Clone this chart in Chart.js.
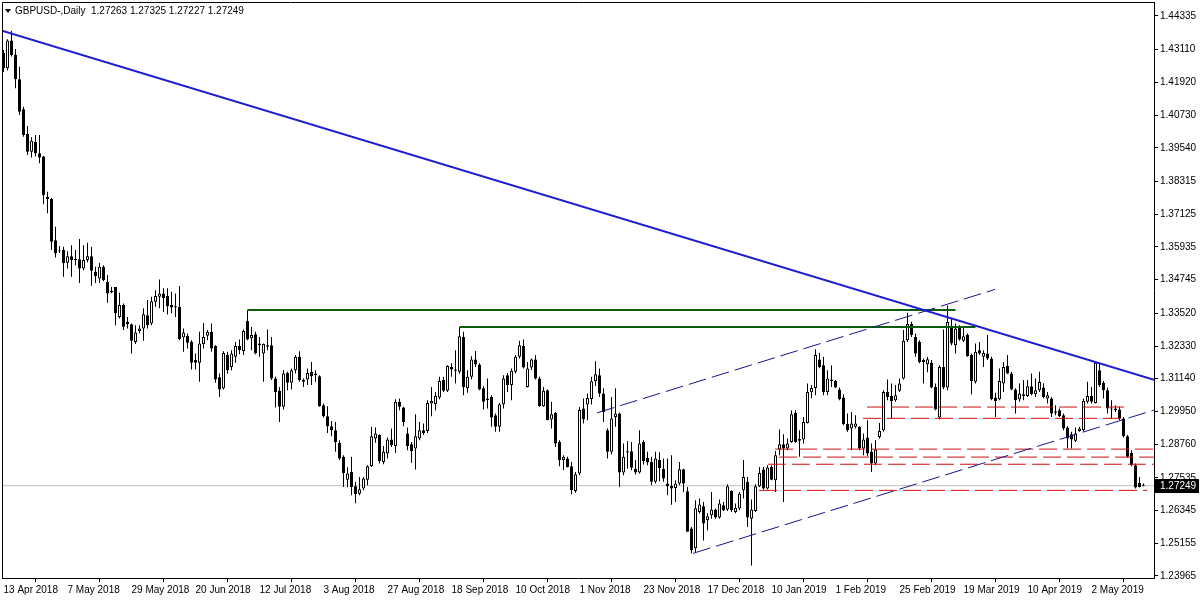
<!DOCTYPE html>
<html>
<head>
<meta charset="utf-8">
<script src="https://cdn.jsdelivr.net/npm/chart.js@4/dist/chart.umd.min.js"></script>
<style>
  html, body { margin: 0; padding: 0; background: #fff; }
</style>
</head>
<body>
<canvas id="chart" width="1200" height="600"></canvas>
<script>
// GBPUSD daily candles, 13 Apr 2018 .. 20 May 2019
const symbolTitle = 'GBPUSD-,Daily'
const lastQuote = [1.27263, 1.27325, 1.27227, 1.27249]

const dateLabels = ['13 Apr 2018', '7 May 2018', '29 May 2018', '20 Jun 2018', '12 Jul 2018', '3 Aug 2018',
  '27 Aug 2018', '18 Sep 2018', '10 Oct 2018', '1 Nov 2018', '23 Nov 2018', '17 Dec 2018', '10 Jan 2019',
  '1 Feb 2019', '25 Feb 2019', '19 Mar 2019', '10 Apr 2019', '2 May 2019']
const dateTickBars = [0, 16, 32, 48, 64, 80, 96, 112, 128, 144, 160, 176, 192, 208, 224, 240, 256, 272]

const priceTicks = [1.44335, 1.43110, 1.41920, 1.40730, 1.39540, 1.38315, 1.37125, 1.35935, 1.34745,
  1.33520, 1.32330, 1.31140, 1.29950, 1.28760, 1.27535, 1.26345, 1.25155, 1.23965]

const opens = [
  1.4299, 1.4243, 1.4344, 1.4292, 1.4203, 1.4094, 1.4004, 1.3940, 1.3976, 1.3934,
  1.3922, 1.3776, 1.3768, 1.3618, 1.3578, 1.3582, 1.3536, 1.3560, 1.3549, 1.3549,
  1.3515, 1.3546, 1.3560, 1.3503, 1.3479, 1.3521, 1.3467, 1.3434, 1.3448, 1.3339,
  1.3382, 1.3321, 1.3312, 1.3248, 1.3288, 1.3297, 1.3345, 1.3315, 1.3394, 1.3412,
  1.3424, 1.3415, 1.3382, 1.3378, 1.3376, 1.3264, 1.3270, 1.3248, 1.3182, 1.3172,
  1.3240, 1.3270, 1.3285, 1.3233, 1.3119, 1.3079, 1.3200, 1.3157, 1.3194, 1.3233,
  1.3215, 1.3324, 1.3261, 1.3276, 1.3242, 1.3206, 1.3236, 1.3236, 1.3115, 1.3070,
  1.3012, 1.3135, 1.3099, 1.3145, 1.3194, 1.3109, 1.3111, 1.3139, 1.3133, 1.3123,
  1.3018, 1.2978, 1.2941, 1.2927, 1.2881, 1.2830, 1.2747, 1.2775, 1.2723, 1.2696,
  1.2715, 1.2747, 1.2796, 1.2897, 1.2909, 1.2811, 1.2842, 1.2893, 1.2869, 1.3030,
  1.3009, 1.2915, 1.2876, 1.2860, 1.2897, 1.2927, 1.2924, 1.3024, 1.3021, 1.3046,
  1.3109, 1.3070, 1.3157, 1.3148, 1.3139, 1.3266, 1.3079, 1.3121, 1.3184, 1.3166,
  1.3079, 1.3042, 1.3048, 1.2981, 1.2939, 1.3021, 1.3127, 1.3091, 1.3139, 1.3194,
  1.3233, 1.3084, 1.3155, 1.3184, 1.3115, 1.3014, 1.3072, 1.2966, 1.2990, 1.2884,
  1.2818, 1.2824, 1.2796, 1.2706, 1.2769, 1.3006, 1.3020, 1.3040, 1.3105, 1.3127,
  1.3060, 1.2927, 1.2848, 1.2975, 1.2988, 1.2773, 1.2850, 1.2850, 1.2787, 1.2773,
  1.2884, 1.2826, 1.2811, 1.2739, 1.2818, 1.2787, 1.2733, 1.2724, 1.2717, 1.2733,
  1.2785, 1.2705, 1.2569, 1.2497, 1.2629, 1.2650, 1.2599, 1.2617, 1.2638, 1.2609,
  1.2654, 1.2638, 1.2706, 1.2629, 1.2642, 1.2708, 1.2739, 1.2605, 1.2633, 1.2723,
  1.2784, 1.2715, 1.2793, 1.2745, 1.2857, 1.2876, 1.2860, 1.2884, 1.2990, 1.2895,
  1.2893, 1.2953, 1.3065, 1.3080, 1.3184, 1.3163, 1.3066, 1.3111, 1.3106, 1.3075,
  1.3046, 1.2949, 1.2933, 1.2939, 1.2939, 1.2860, 1.2900, 1.2848, 1.2806, 1.2902,
  1.2927, 1.3066, 1.3051, 1.3036, 1.3070, 1.3115, 1.3254, 1.3313, 1.3266, 1.3248,
  1.3182, 1.3167, 1.3172, 1.3084, 1.2973, 1.3157, 1.3082, 1.3303, 1.3236, 1.3300,
  1.3252, 1.3273, 1.3200, 1.3103, 1.3218, 1.3194, 1.3206, 1.3188, 1.3046, 1.3039,
  1.3097, 1.3160, 1.3133, 1.3075, 1.3039, 1.3058, 1.3051, 1.3087, 1.3058, 1.3072,
  1.3082, 1.3042, 1.3042, 1.2996, 1.2999, 1.2981, 1.2937, 1.2912, 1.2888, 1.2924,
  1.2927, 1.3030, 1.3051, 1.3026, 1.3145, 1.3099, 1.3072, 1.3006, 1.3006, 1.3002,
  1.2969, 1.2905, 1.2844, 1.2799, 1.2735, 1.27263]

const highs = [
  1.4310, 1.4349, 1.4380, 1.4313, 1.4249, 1.4103, 1.4033, 1.3992, 1.4001, 1.4001,
  1.3924, 1.3794, 1.3771, 1.3667, 1.3597, 1.3594, 1.3578, 1.3600, 1.3582, 1.3622,
  1.3600, 1.3609, 1.3594, 1.3521, 1.3536, 1.3527, 1.3491, 1.3448, 1.3448, 1.3427,
  1.3388, 1.3339, 1.3315, 1.3309, 1.3309, 1.3370, 1.3400, 1.3412, 1.3436, 1.3475,
  1.3443, 1.3443, 1.3430, 1.3424, 1.3451, 1.3297, 1.3279, 1.3254, 1.3206, 1.3285,
  1.3317, 1.3291, 1.3315, 1.3236, 1.3133, 1.3214, 1.3212, 1.3218, 1.3248, 1.3257,
  1.3293, 1.3364, 1.3303, 1.3285, 1.3266, 1.3242, 1.3293, 1.3266, 1.3121, 1.3084,
  1.3145, 1.3139, 1.3151, 1.3200, 1.3214, 1.3115, 1.3151, 1.3175, 1.3145, 1.3127,
  1.3024, 1.3014, 1.2960, 1.2957, 1.2890, 1.2836, 1.2792, 1.2830, 1.2739, 1.2757,
  1.2757, 1.2799, 1.2939, 1.2937, 1.2912, 1.2869, 1.2900, 1.2933, 1.3039, 1.3042,
  1.3012, 1.2937, 1.2884, 1.2985, 1.2957, 1.2951, 1.3036, 1.3084, 1.3066, 1.3121,
  1.3121, 1.3163, 1.3170, 1.3218, 1.3302, 1.3285, 1.3145, 1.3196, 1.3215, 1.3170,
  1.3087, 1.3115, 1.3054, 1.2988, 1.3026, 1.3127, 1.3135, 1.3151, 1.3200, 1.3252,
  1.3257, 1.3175, 1.3188, 1.3200, 1.3121, 1.3084, 1.3075, 1.3030, 1.2993, 1.2890,
  1.2836, 1.2830, 1.2811, 1.2775, 1.3011, 1.3042, 1.3060, 1.3121, 1.3178, 1.3151,
  1.3079, 1.2933, 1.3048, 1.3079, 1.2991, 1.2878, 1.2887, 1.2884, 1.2818, 1.2927,
  1.2890, 1.2848, 1.2830, 1.2848, 1.2847, 1.2824, 1.2824, 1.2836, 1.2745, 1.2811,
  1.2787, 1.2720, 1.2575, 1.2672, 1.2678, 1.2666, 1.2626, 1.2702, 1.2642, 1.2675,
  1.2666, 1.2730, 1.2708, 1.2660, 1.2702, 1.2818, 1.2757, 1.2675, 1.2730, 1.2793,
  1.2793, 1.2799, 1.2799, 1.2851, 1.2929, 1.2912, 1.2897, 1.2999, 1.2999, 1.2927,
  1.2975, 1.3097, 1.3091, 1.3221, 1.3208, 1.3194, 1.3145, 1.3163, 1.3109, 1.3082,
  1.3058, 1.2988, 1.2993, 1.2981, 1.2941, 1.2915, 1.2963, 1.2878, 1.2890, 1.2953,
  1.3072, 1.3111, 1.3097, 1.3091, 1.3115, 1.3291, 1.3354, 1.3321, 1.3279, 1.3254,
  1.3188, 1.3193, 1.3182, 1.3097, 1.3163, 1.3293, 1.3380, 1.3333, 1.3315, 1.3309,
  1.3303, 1.3279, 1.3206, 1.3242, 1.3248, 1.3218, 1.3273, 1.3194, 1.3063, 1.3151,
  1.3175, 1.3200, 1.3139, 1.3079, 1.3097, 1.3109, 1.3109, 1.3133, 1.3115, 1.3139,
  1.3098, 1.3066, 1.3048, 1.3018, 1.3006, 1.2988, 1.2941, 1.2921, 1.2937, 1.2939,
  1.3042, 1.3103, 1.3084, 1.3175, 1.3172, 1.3106, 1.3082, 1.3036, 1.3018, 1.3012,
  1.2975, 1.2909, 1.2854, 1.2806, 1.2757, 1.27325]

const lows = [
  1.4230, 1.4235, 1.4286, 1.4171, 1.4073, 1.3994, 1.3928, 1.3919, 1.3922, 1.3898,
  1.3749, 1.3716, 1.3582, 1.3555, 1.3571, 1.3485, 1.3515, 1.3485, 1.3527, 1.3462,
  1.3509, 1.3538, 1.3452, 1.3462, 1.3462, 1.3469, 1.3390, 1.3425, 1.3309, 1.3333,
  1.3291, 1.3297, 1.3206, 1.3240, 1.3279, 1.3252, 1.3297, 1.3309, 1.3376, 1.3370,
  1.3357, 1.3348, 1.3352, 1.3339, 1.3254, 1.3212, 1.3224, 1.3148, 1.3148, 1.3103,
  1.3224, 1.3254, 1.3212, 1.3099, 1.3048, 1.3075, 1.3133, 1.3145, 1.3172, 1.3203,
  1.3200, 1.3254, 1.3218, 1.3203, 1.3194, 1.3103, 1.3218, 1.3109, 1.3009, 1.2957,
  1.3002, 1.3072, 1.3075, 1.3133, 1.3103, 1.3084, 1.3091, 1.3091, 1.3103, 1.3012,
  1.2973, 1.2917, 1.2905, 1.2848, 1.2818, 1.2720, 1.2719, 1.2690, 1.2661, 1.2690,
  1.2708, 1.2727, 1.2793, 1.2881, 1.2806, 1.2803, 1.2824, 1.2866, 1.2844, 1.2999,
  1.2941, 1.2854, 1.2808, 1.2784, 1.2890, 1.2909, 1.2917, 1.2978, 1.2999, 1.3039,
  1.3066, 1.3066, 1.3121, 1.3097, 1.3133, 1.3054, 1.3063, 1.3111, 1.3157, 1.3072,
  1.3002, 1.3006, 1.2939, 1.2921, 1.2921, 1.3006, 1.3066, 1.3036, 1.3133, 1.3188,
  1.3151, 1.3082, 1.3145, 1.3111, 1.3012, 1.3012, 1.2963, 1.2933, 1.2866, 1.2796,
  1.2781, 1.2791, 1.2694, 1.2699, 1.2763, 1.2951, 1.2963, 1.3020, 1.3088, 1.3048,
  1.2957, 1.2824, 1.2838, 1.2939, 1.2720, 1.2763, 1.2787, 1.2781, 1.2766, 1.2769,
  1.2802, 1.2799, 1.2727, 1.2733, 1.2741, 1.2739, 1.2690, 1.2656, 1.2666, 1.2727,
  1.2702, 1.2557, 1.2478, 1.2483, 1.2624, 1.2526, 1.2563, 1.2605, 1.2605, 1.2605,
  1.2633, 1.2633, 1.2629, 1.2625, 1.2636, 1.2678, 1.2575, 1.2435, 1.2629, 1.2720,
  1.2711, 1.2711, 1.2745, 1.2702, 1.2836, 1.2666, 1.2854, 1.2881, 1.2881, 1.2830,
  1.2878, 1.2951, 1.3043, 1.3054, 1.3152, 1.3054, 1.3054, 1.3084, 1.3079, 1.3036,
  1.2945, 1.2921, 1.2854, 1.2933, 1.2854, 1.2836, 1.2832, 1.2775, 1.2799, 1.2897,
  1.2921, 1.3036, 1.2969, 1.3030, 1.3066, 1.3111, 1.3248, 1.3266, 1.3194, 1.3170,
  1.3097, 1.3138, 1.3079, 1.2999, 1.2966, 1.3076, 1.3072, 1.3236, 1.3206, 1.3252,
  1.3248, 1.3194, 1.3058, 1.3097, 1.3200, 1.3157, 1.3182, 1.3036, 1.2975, 1.3036,
  1.3066, 1.3131, 1.3072, 1.2988, 1.3030, 1.3036, 1.3048, 1.3054, 1.3048, 1.3066,
  1.3043, 1.3024, 1.2975, 1.2981, 1.2975, 1.2927, 1.2860, 1.2860, 1.2884, 1.2921,
  1.2921, 1.3024, 1.3024, 1.3024, 1.3084, 1.3042, 1.2988, 1.2969, 1.2993, 1.2963,
  1.2900, 1.2827, 1.2796, 1.2715, 1.2718, 1.27227]

const closes = [
  1.4244, 1.4344, 1.4292, 1.4203, 1.4085, 1.4001, 1.3940, 1.3980, 1.3934, 1.3919,
  1.3782, 1.3768, 1.3612, 1.3570, 1.3577, 1.3534, 1.3560, 1.3546, 1.3546, 1.3515,
  1.3546, 1.3560, 1.3507, 1.3487, 1.3521, 1.3473, 1.3424, 1.3428, 1.3352, 1.3382,
  1.3303, 1.3312, 1.3252, 1.3282, 1.3297, 1.3349, 1.3309, 1.3396, 1.3415, 1.3424,
  1.3408, 1.3379, 1.3373, 1.3373, 1.3258, 1.3282, 1.3245, 1.3172, 1.3172, 1.3242,
  1.3266, 1.3285, 1.3224, 1.3111, 1.3075, 1.3208, 1.3145, 1.3206, 1.3233, 1.3218,
  1.3288, 1.3257, 1.3273, 1.3206, 1.3236, 1.3240, 1.3230, 1.3115, 1.3066, 1.3012,
  1.3133, 1.3099, 1.3145, 1.3194, 1.3109, 1.3103, 1.3135, 1.3123, 1.3127, 1.3014,
  1.2978, 1.2941, 1.2927, 1.2884, 1.2824, 1.2771, 1.2769, 1.2720, 1.2694, 1.2712,
  1.2751, 1.2796, 1.2905, 1.2915, 1.2815, 1.2848, 1.2893, 1.2872, 1.3030, 1.3012,
  1.2957, 1.2869, 1.2851, 1.2905, 1.2927, 1.2917, 1.3026, 1.3033, 1.3051, 1.3106,
  1.3070, 1.3160, 1.3148, 1.3143, 1.3269, 1.3084, 1.3121, 1.3184, 1.3166, 1.3075,
  1.3030, 1.3036, 1.2973, 1.2939, 1.3021, 1.3115, 1.3091, 1.3143, 1.3194, 1.3236,
  1.3155, 1.3151, 1.3184, 1.3115, 1.3014, 1.3070, 1.2963, 1.2985, 1.2878, 1.2818,
  1.2830, 1.2793, 1.2708, 1.2767, 1.3000, 1.2967, 1.3044, 1.3105, 1.3130, 1.3060,
  1.2993, 1.2848, 1.2969, 1.2988, 1.2773, 1.2830, 1.2846, 1.2790, 1.2773, 1.2878,
  1.2814, 1.2809, 1.2739, 1.2824, 1.2788, 1.2751, 1.2724, 1.2715, 1.2733, 1.2785,
  1.2733, 1.2557, 1.2490, 1.2643, 1.2657, 1.2587, 1.2614, 1.2638, 1.2609, 1.2660,
  1.2636, 1.2723, 1.2636, 1.2645, 1.2696, 1.2757, 1.2609, 1.2638, 1.2723, 1.2771,
  1.2715, 1.2791, 1.2747, 1.2836, 1.2876, 1.2860, 1.2878, 1.2985, 1.2884, 1.2888,
  1.2957, 1.3066, 1.3080, 1.3200, 1.3157, 1.3066, 1.3115, 1.3106, 1.3082, 1.3039,
  1.2949, 1.2927, 1.2951, 1.2951, 1.2860, 1.2893, 1.2842, 1.2806, 1.2857, 1.2924,
  1.3066, 1.3048, 1.3033, 1.3054, 1.3097, 1.3252, 1.3313, 1.3273, 1.3206, 1.3175,
  1.3175, 1.3185, 1.3082, 1.3002, 1.3157, 1.3082, 1.3320, 1.3242, 1.3297, 1.3257,
  1.3269, 1.3196, 1.3106, 1.3212, 1.3206, 1.3208, 1.3188, 1.3039, 1.3033, 1.3106,
  1.3157, 1.3133, 1.3075, 1.3036, 1.3060, 1.3051, 1.3087, 1.3058, 1.3072, 1.3102,
  1.3048, 1.3054, 1.2988, 1.2990, 1.2978, 1.2933, 1.2897, 1.2893, 1.2915, 1.2933,
  1.3033, 1.3051, 1.3030, 1.3172, 1.3091, 1.3072, 1.3006, 1.3002, 1.2999, 1.2969,
  1.2905, 1.2830, 1.2799, 1.2718, 1.2720, 1.27249]

// drawn objects: [barIndex, price] end points
const trendLine = [[-0.375, 1.4380], [287.625, 1.3110]]
const channelUpper = [[148.4, 1.2990], [247.9, 1.3439]]
const channelLower = [[172.4, 1.2479], [287.625, 1.3000]]
// horizontal levels: [fromBar, toBar, price]
const greenLevels = [[61, 238, 1.3364], [114, 243, 1.3302]]
const redLevels = [[215.9, 280.1, 1.3011], [214.9, 280.1, 1.2970], [192.9, 287.625, 1.2858],
  [193.9, 287.625, 1.2829], [191.1, 287.625, 1.2803], [188.9, 285.9, 1.2708]]

const xMin = -0.375
const xMax = 287.625
const yMin = 1.23892
const yMax = 1.44844

const FONT = 'Liberation Sans'
Chart.defaults.font.family = FONT
Chart.defaults.font.size = 10
Chart.defaults.color = '#000'

function pts(pairs) {
  return pairs.map(([x, y]) => ({ x, y }))
}

function lineSet(data, color, width, dash, order) {
  return {
    type: 'line',
    data,
    borderColor: color,
    borderWidth: width,
    borderDash: dash || [],
    pointRadius: 0,
    fill: false,
    tension: 0,
    order: order === undefined ? -1 : order,
  }
}

const datasets = [
  {
    type: 'bar',
    data: opens.map((o, i) => ({ x: i, y: [o, closes[i]] })),
    backgroundColor: (ctx) => (closes[ctx.dataIndex] >= opens[ctx.dataIndex] ? '#ffffff' : '#000000'),
    borderColor: '#000000',
    borderWidth: 1,
    borderSkipped: false,
    barThickness: 3,
    minBarLength: 1,
    inflateAmount: 0,
    grouped: false,
    order: 0,
  },
  {
    type: 'bar',
    data: lows.map((l, i) => ({ x: i, y: [l, highs[i]] })),
    backgroundColor: '#000000',
    borderWidth: 0,
    barThickness: 1,
    inflateAmount: 0,
    grouped: false,
    order: 1,
  },
  lineSet(pts([[xMin, lastQuote[3]], [xMax, lastQuote[3]]]), '#c0c0c0', 1, null, 2),
  lineSet(pts(trendLine), '#1c1cd0', 2),
  lineSet(pts(channelUpper), '#15158f', 1, [18, 6]),
  lineSet(pts(channelLower), '#15158f', 1, [18, 6]),
]
greenLevels.forEach(([a, b, p]) => datasets.push(lineSet(pts([[a, p], [b, p]]), '#0b5d0b', 2)))
redLevels.forEach(([a, b, p]) => datasets.push(lineSet(pts([[a, p], [b, p]]), '#cc1111', 1, [18, 6])))

const mt4Decor = {
  id: 'mt4Decor',
  afterDraw(chart) {
    const { ctx, chartArea, scales } = chart
    ctx.save()
    ctx.strokeStyle = '#000'
    ctx.lineWidth = 1
    ctx.beginPath()
    ctx.moveTo(chartArea.left + 0.5, chartArea.bottom)
    ctx.lineTo(chartArea.left + 0.5, chartArea.top + 0.5)
    ctx.lineTo(chartArea.right, chartArea.top + 0.5)
    ctx.stroke()

    ctx.fillStyle = '#000'
    ctx.beginPath()
    ctx.moveTo(5, 9)
    ctx.lineTo(11, 9)
    ctx.lineTo(8, 13)
    ctx.closePath()
    ctx.fill()
    ctx.font = '10px "' + FONT + '"'
    ctx.textBaseline = 'middle'
    ctx.fillText(symbolTitle, 15, 11.5)
    ctx.fillText(lastQuote.map((v) => v.toFixed(5)).join(' '), 91, 11.5)

    const y = Math.round(scales.y.getPixelForValue(lastQuote[3]))
    ctx.fillRect(chartArea.right + 1, y - 7, 44, 14)
    ctx.fillStyle = '#fff'
    ctx.fillText(lastQuote[3].toFixed(5), chartArea.right + 6, y + 0.5)
    ctx.restore()
  },
}

new Chart(document.getElementById('chart'), {
  type: 'bar',
  data: { datasets },
  plugins: [mt4Decor],
  options: {
    responsive: false,
    animation: false,
    events: [],
    layout: { padding: { left: 2, top: 2, right: 0, bottom: 0 } },
    plugins: { legend: { display: false }, tooltip: { enabled: false } },
    scales: {
      x: {
        type: 'linear',
        position: 'bottom',
        min: xMin,
        max: xMax,
        offset: false,
        afterBuildTicks: (s) => { s.ticks = dateTickBars.map((v) => ({ value: v })) },
        afterFit: (s) => { s.height = 22; s.paddingLeft = 0; s.paddingRight = 0 },
        ticks: {
          autoSkip: false,
          maxRotation: 0,
          align: 'start',
          padding: 2,
          callback: (v, i) => dateLabels[i],
        },
        grid: { drawOnChartArea: false, drawTicks: true, tickLength: 4, color: '#000' },
        border: { display: true, color: '#000' },
      },
      y: {
        type: 'linear',
        position: 'right',
        min: yMin,
        max: yMax,
        afterBuildTicks: (s) => { s.ticks = priceTicks.map((v) => ({ value: v })) },
        afterFit: (s) => { s.width = 46; s.paddingTop = 0; s.paddingBottom = 0 },
        ticks: {
          autoSkip: false,
          padding: 2,
          callback: (v) => v.toFixed(5),
        },
        grid: { drawOnChartArea: false, drawTicks: true, tickLength: 4, color: '#000' },
        border: { display: true, color: '#000' },
      },
    },
  },
})
</script>
</body>
</html>
